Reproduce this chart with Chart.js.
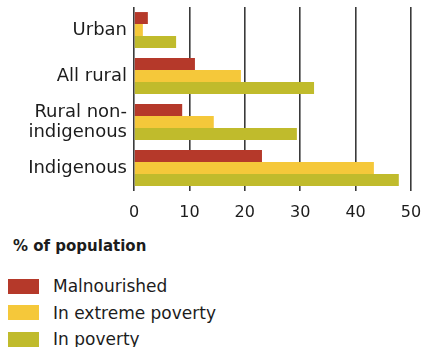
<!DOCTYPE html>
<html lang="en">
<head>
    <meta charset="UTF-8">
    <title>Poverty and malnutrition</title>
    <script src="https://cdn.jsdelivr.net/npm/chart.js"></script>
    <style>
        html, body {
            margin: 0;
            padding: 0;
            background: #ffffff;
        }
        body {
            width: 426px;
            height: 347px;
            position: relative;
            overflow: hidden;
            font-family: "DejaVu Sans", sans-serif;
            color: #1c1c1c;
        }
        #chartBox {
            position: absolute;
            left: 0;
            top: 0;
            width: 426px;
            height: 228px;
        }
        #axisTitle {
            position: absolute;
            left: 13px;
            top: 235px;
            font-size: 15px;
            font-weight: bold;
            line-height: 22px;
        }
        #legend {
            position: absolute;
            left: 8px;
            top: 273px;
        }
        .legend-row {
            height: 26.5px;
            display: flex;
            align-items: center;
            font-size: 17px;
        }
        .legend-box {
            width: 31px;
            height: 15px;
            margin-right: 14px;
        }
    </style>
</head>
<body>
    <div id="chartBox"><canvas id="povertyChart"></canvas></div>
    <div id="axisTitle">% of population</div>
    <div id="legend"></div>

    <script>
        // categories and values (% of population)
        const categories = ['Urban', 'All rural', ['Rural non-', 'indigenous'], 'Indigenous'];
        const seriesNames = ['Malnourished', 'In extreme poverty', 'In poverty'];
        const malnourished = [2.5, 11.0, 8.7, 23.1];
        const extremePoverty = [1.6, 19.3, 14.4, 43.3];
        const poverty = [7.6, 32.5, 29.4, 47.8];
        const xTicks = [0, 10, 20, 30, 40, 50];

        const colors = ['#b5392a', '#f5c83a', '#c0bb2c'];
        const seriesValues = [malnourished, extremePoverty, poverty];

        const datasets = seriesNames.map(function(name, i) {
            return {
                label: name,
                data: seriesValues[i],
                backgroundColor: colors[i],
                borderWidth: 0,
                categoryPercentage: 0.78,
                barPercentage: 1.0
            };
        });

        const ctx = document.getElementById('povertyChart');
        const chart = new Chart(ctx, {
            type: 'bar',
            data: {
                labels: categories,
                datasets: datasets
            },
            options: {
                indexAxis: 'y',
                responsive: true,
                maintainAspectRatio: false,
                animation: false,
                layout: {
                    padding: { top: 7, right: 15, left: 0, bottom: 0 }
                },
                plugins: {
                    legend: { display: false },
                    tooltip: { enabled: false }
                },
                scales: {
                    x: {
                        min: 0,
                        max: 50,
                        afterBuildTicks: function(scale) {
                            scale.ticks = xTicks.map(function(v) { return { value: v }; });
                        },
                        afterFit: function(scale) {
                            // keep the plot edges fixed, labels may overhang
                            scale.height = 37;
                            scale.paddingLeft = 0;
                            scale.paddingRight = 0;
                        },
                        border: { display: false },
                        grid: {
                            color: '#3a3a3a',
                            lineWidth: 1.6,
                            drawTicks: false
                        },
                        ticks: {
                            padding: 12,
                            color: '#1c1c1c',
                            font: { family: 'DejaVu Sans', size: 16 }
                        }
                    },
                    y: {
                        afterFit: function(scale) {
                            scale.width = 134;
                            scale.paddingTop = 0;
                            scale.paddingBottom = 0;
                        },
                        border: { display: false },
                        grid: { display: false, drawTicks: false },
                        ticks: {
                            padding: 7,
                            color: '#1c1c1c',
                            font: { family: 'DejaVu Sans', size: 18, lineHeight: 1.1 }
                        }
                    }
                }
            }
        });

        // legend built from the datasets
        const legendEl = document.getElementById('legend');
        chart.data.datasets.forEach(function(ds) {
            const row = document.createElement('div');
            row.className = 'legend-row';
            const box = document.createElement('div');
            box.className = 'legend-box';
            box.style.background = ds.backgroundColor;
            const label = document.createElement('span');
            label.textContent = ds.label;
            row.appendChild(box);
            row.appendChild(label);
            legendEl.appendChild(row);
        });
    </script>
</body>
</html>
